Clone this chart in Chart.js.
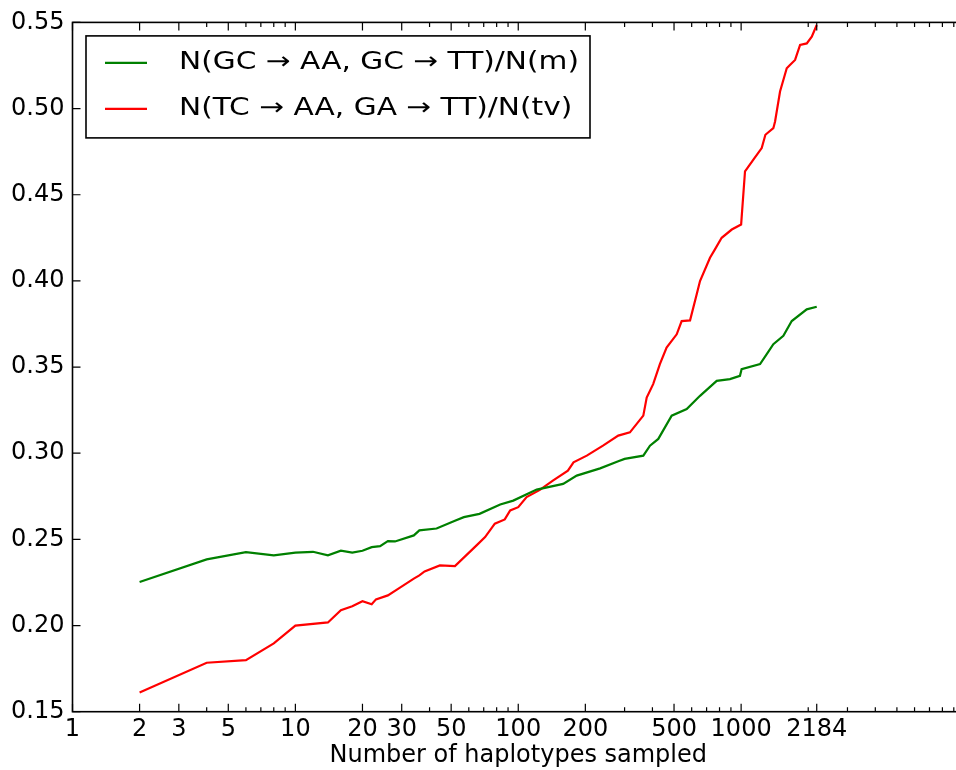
<!DOCTYPE html>
<html><head><meta charset="utf-8">
<script src="https://cdn.jsdelivr.net/npm/chart.js@4.4.1/dist/chart.umd.min.js"></script>
<style>
html,body{margin:0;padding:0;background:#fff;overflow:hidden;width:956px;height:770px}
#wrap{position:relative;width:972px;height:770px}
canvas{display:block}
</style>
</head><body><div id="wrap"><canvas id="c" width="972" height="770"></canvas></div>
<script>
const greenN = [2, 4, 6, 8, 10, 12, 14, 16, 18, 20, 22, 24, 26, 28, 34, 36, 43, 52, 57, 67, 83, 95, 121, 159, 183, 233, 281, 300, 364, 390, 425, 488, 570, 654, 777, 891, 988, 1005, 1216, 1303, 1395, 1547, 1687, 1970, 2184];
const greenV = [0.2253, 0.2384, 0.2426, 0.2407, 0.2423, 0.2428, 0.2407, 0.2434, 0.2423, 0.2434, 0.2455, 0.2461, 0.2490, 0.2488, 0.2523, 0.2552, 0.2563, 0.2608, 0.2629, 0.2648, 0.2702, 0.2725, 0.2789, 0.2822, 0.2870, 0.2912, 0.2953, 0.2967, 0.2986, 0.3044, 0.3083, 0.3218, 0.3256, 0.3333, 0.3420, 0.3430, 0.3449, 0.3488, 0.3517, 0.3575, 0.3633, 0.3681, 0.3767, 0.3835, 0.3850];
const redN = [2, 4, 6, 8, 10, 14, 16, 18, 20, 22, 23, 26, 29, 34, 36, 38, 44.5, 52, 65, 71, 78.5, 87, 92, 100, 109, 125, 143, 167, 177, 203, 240, 281, 317, 364, 377, 403, 432, 463, 514, 541, 590, 632, 654, 725, 763, 818, 908, 1000, 1041, 1135, 1237, 1285, 1395, 1420, 1495, 1602, 1656, 1746, 1839, 1970, 2075, 2184];
const redV = [0.1612, 0.1784, 0.1799, 0.1896, 0.2000, 0.2018, 0.2089, 0.2112, 0.2141, 0.2123, 0.2152, 0.2175, 0.2214, 0.2272, 0.2291, 0.2314, 0.2349, 0.2345, 0.2465, 0.2513, 0.2591, 0.2616, 0.2668, 0.2687, 0.2745, 0.2787, 0.2841, 0.2899, 0.2947, 0.2986, 0.3044, 0.3102, 0.3121, 0.3218, 0.3323, 0.3401, 0.3517, 0.3613, 0.3690, 0.3767, 0.3771, 0.3922, 0.3999, 0.4134, 0.4183, 0.4250, 0.4298, 0.4327, 0.4636, 0.4704, 0.4771, 0.4848, 0.4886, 0.4925, 0.5099, 0.5234, 0.5253, 0.5282, 0.5369, 0.5378, 0.5417, 0.5485];
const seriesLabels = ['N(GC \u2192 AA, GC \u2192 TT)/N(m)', 'N(TC \u2192 AA, GA \u2192 TT)/N(tv)'];
const xMajorTicks = [1, 2, 3, 5, 10, 20, 30, 50, 100, 200, 500, 1000, 2184];
const xMinorTicks = [4, 6, 7, 8, 9, 40, 60, 70, 80, 90, 300, 400, 600, 700, 800, 900, 2000, 3000, 4000, 5000, 6000, 7000, 8000, 9000];
const yTicks = [0.15, 0.20, 0.25, 0.30, 0.35, 0.40, 0.45, 0.50, 0.55];
const xTitle = 'Number of haplotypes sampled';

const FONT = 'DejaVu Sans';
const FS = 24;

const framePlugin = {
  id: 'frame',
  afterDatasetsDraw(chart) {
    const ctx = chart.ctx, a = chart.chartArea;
    const xs = chart.scales.x, ys = chart.scales.y;
    ctx.save();
    ctx.strokeStyle = '#000';
    ctx.lineWidth = 1.2;
    ctx.beginPath();
    const tick = (v, len) => {
      const p = xs.getPixelForValue(v);
      if (p < a.left - 0.5 || p > a.right + 0.5) return;
      ctx.moveTo(p, a.bottom); ctx.lineTo(p, a.bottom - len);
      ctx.moveTo(p, a.top); ctx.lineTo(p, a.top + len);
    };
    xMajorTicks.forEach(v => tick(v, 8));
    xMinorTicks.forEach(v => tick(v, 4.5));
    yTicks.forEach(v => {
      const p = ys.getPixelForValue(v);
      ctx.moveTo(a.left, p); ctx.lineTo(a.left + 8, p);
      ctx.moveTo(a.right, p); ctx.lineTo(a.right - 8, p);
    });
    ctx.stroke();
    ctx.lineWidth = 1.6;
    ctx.strokeRect(a.left, a.top, a.right - a.left, a.bottom - a.top);

    // legend box
    const lx = a.left + 13.5, ly = a.top + 13.5, lw = 504, lh = 102;
    ctx.fillStyle = '#fff';
    ctx.fillRect(lx, ly, lw, lh);
    ctx.lineWidth = 1.6;
    ctx.strokeRect(lx, ly, lw, lh);
    ctx.font = FS + 'px "' + FONT + '"';
    const w0 = ctx.measureText(chart.data.datasets[0].label).width;
    const sx = 400 / w0;
    chart.data.datasets.forEach((ds, i) => {
      const yy = ly + 27 + i * 46;
      ctx.strokeStyle = ds.borderColor;
      ctx.lineWidth = 2.2;
      ctx.beginPath();
      ctx.moveTo(lx + 19, yy); ctx.lineTo(lx + 61, yy);
      ctx.stroke();
      ctx.save();
      ctx.fillStyle = '#000';
      ctx.textBaseline = 'middle';
      ctx.textAlign = 'left';
      ctx.translate(lx + 93, yy);
      ctx.scale(sx, 1);
      ctx.fillText(ds.label, 0, -0.5);
      ctx.restore();
    });
    ctx.restore();
  }
};

const toPts = (ns, vs) => ns.map((n, i) => ({x: n, y: vs[i]}));

new Chart(document.getElementById('c'), {
  type: 'line',
  data: {
    datasets: [
      {label: seriesLabels[0], data: toPts(greenN, greenV), borderColor: '#008000', borderWidth: 2.2, pointRadius: 0, tension: 0, fill: false},
      {label: seriesLabels[1], data: toPts(redN, redV), borderColor: '#ff0000', borderWidth: 2.2, pointRadius: 0, tension: 0, fill: false}
    ]
  },
  options: {
    responsive: false,
    devicePixelRatio: 1,
    animation: false,
    layout: {padding: {top: 20.5, right: 8, left: 0, bottom: 0}},
    plugins: {legend: {display: false}, tooltip: {enabled: false}},
    scales: {
      x: {
        type: 'logarithmic', min: 1, max: 10000, position: 'bottom',
        grid: {display: false, drawTicks: false},
        border: {display: false},
        afterBuildTicks: s => { s.ticks = xMajorTicks.concat(xMinorTicks).sort((p, q) => p - q).map(v => ({value: v})); },
        afterFit: s => { s.height = 58.3; },
        ticks: {
          autoSkip: false, maxRotation: 0, minRotation: 0, padding: 3.5, color: '#000',
          font: {family: FONT, size: FS},
          callback: v => xMajorTicks.includes(v) ? String(v) : ''
        },
        title: {display: true, text: xTitle, color: '#000', font: {family: FONT, size: FS, lineHeight: 1.2}, padding: {top: 0, bottom: 0}}
      },
      y: {
        type: 'linear', min: 0.15, max: 0.55,
        grid: {display: false, drawTicks: false},
        border: {display: false},
        afterBuildTicks: s => { s.ticks = yTicks.map(v => ({value: v})); },
        afterFit: s => { s.width = 72.5; },
        ticks: {padding: 8, color: '#000', font: {family: FONT, size: FS}, callback: v => Number(v).toFixed(2)}
      }
    }
  },
  plugins: [framePlugin]
});
</script>
</body></html>
